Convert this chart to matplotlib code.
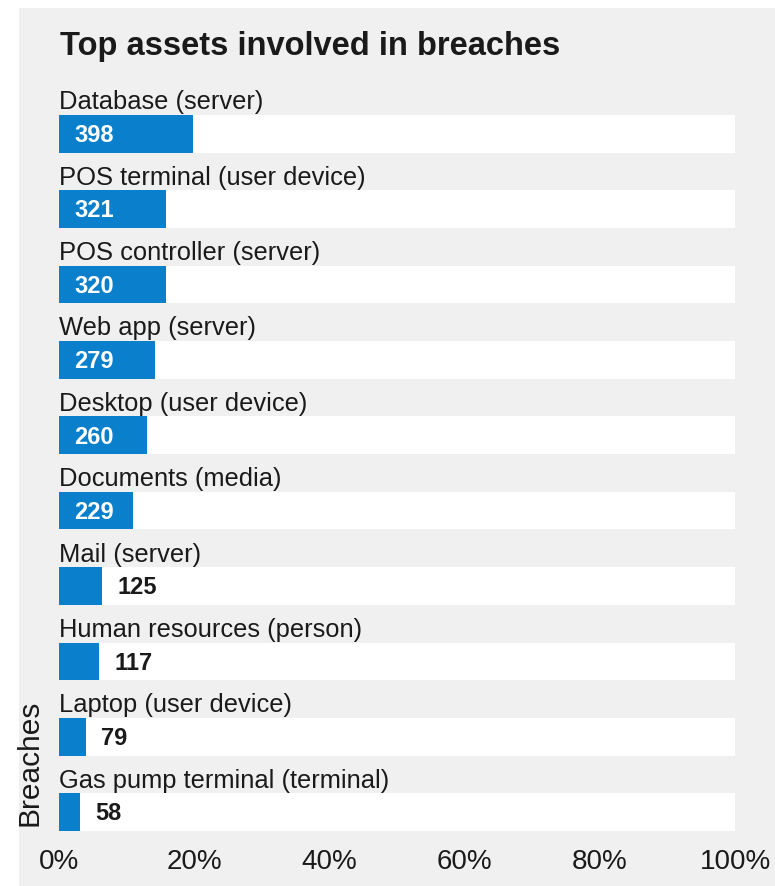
import matplotlib
matplotlib.use("Agg")
import matplotlib.pyplot as plt
from matplotlib.patches import Rectangle
from matplotlib.ticker import FuncFormatter

plt.rcParams['font.family'] = ['Liberation Sans', 'DejaVu Sans']

categories = ["Database (server)", "POS terminal (user device)", "POS controller (server)",
              "Web app (server)", "Desktop (user device)", "Documents (media)",
              "Mail (server)", "Human resources (person)", "Laptop (user device)",
              "Gas pump terminal (terminal)"]
breaches = [398, 321, 320, 279, 260, 229, 125, 117, 79, 58]
share_pct = [19.8, 15.8, 15.8, 14.1, 13.0, 10.9, 6.3, 5.9, 3.9, 3.1]
xticks = [0, 20, 40, 60, 80, 100]

BLUE = "#0A80CC"
BG = "#F0F0F0"

fig = plt.figure(figsize=(7.75, 8.87), dpi=100)
fig.patch.set_facecolor("white")
fig.patches.append(Rectangle((19/775, 0), 1 - 19/775, 1 - 9/887, transform=fig.transFigure,
                             facecolor=BG, edgecolor="none", zorder=-10))

ax = fig.add_axes([59.5/775, 55/887, 675.5/775, (832-88)/887])
ax.set_zorder(5)
ax.set_facecolor("none")
ax.set_xlim(0, 100)
ax.set_ylim(9.25, -0.62)

ys = list(range(len(categories)))
ax.barh(ys, [100]*len(ys), height=0.5, color="white", zorder=1)
ax.barh(ys, share_pct, height=0.5, color=BLUE, zorder=2)

px = 100/675.5
for y, cat, val, pct in zip(ys, categories, breaches, share_pct):
    ax.text(0, y - 0.43, cat, ha="left", va="center", fontsize=18.4, color="#1a1a1a", zorder=3)
    if pct >= 10:
        ax.text(15*px, y + 0.01, str(val), ha="left", va="center", fontsize=17,
                fontweight="bold", color="white", zorder=3)
    else:
        ax.text(pct + 15*px, y + 0.01, str(val), ha="left", va="center", fontsize=17,
                fontweight="bold", color="#1a1a1a", zorder=3)

ax.set_xticks(xticks)
ax.xaxis.set_major_formatter(FuncFormatter(lambda v, p: f"{v:.0f}%"))
ax.set_yticks([])
ax.tick_params(axis="x", length=0, pad=12, labelsize=20, labelcolor="#1a1a1a")
for s in ax.spines.values():
    s.set_visible(False)

fig.text(60/775, 1 - 47/887, "Top assets involved in breaches", ha="left", va="center",
         fontsize=23.5, fontweight="bold", color="#1a1a1a")
fig.text(30/775, 1 - 826/887, "Breaches", rotation=90, ha="center", va="bottom",
         fontsize=21.5, color="#1a1a1a")

fig.savefig("out.png", dpi=100, facecolor=fig.get_facecolor())
